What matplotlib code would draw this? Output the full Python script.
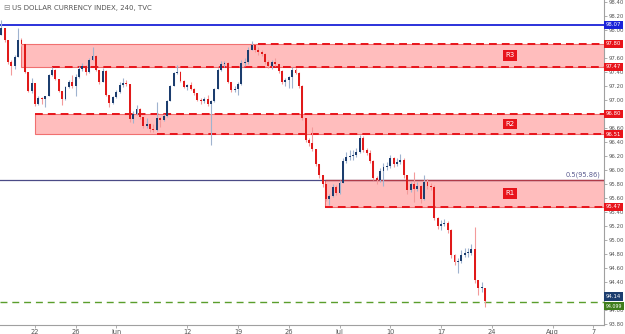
import matplotlib
matplotlib.use("Agg")
import matplotlib.pyplot as plt
import numpy as np
from matplotlib.transforms import blended_transform_factory

title = "US DOLLAR CURRENCY INDEX, 240, TVC"

# 8h candles, open = previous close
first_open = 97.93
closes = [98.03, 97.86, 97.54, 97.48, 97.61, 97.86, 97.80, 97.40, 97.13, 97.24,
          96.94, 97.03, 97.01, 97.06, 97.36, 97.43, 97.30, 97.13, 97.01, 97.18,
          97.26, 97.20, 97.33, 97.44, 97.48, 97.40, 97.57, 97.63, 97.43, 97.26,
          97.41, 97.07, 96.96, 97.04, 97.11, 97.21, 97.24, 97.23, 96.73, 96.80,
          96.87, 96.76, 96.63, 96.66, 96.58, 96.57, 96.74, 96.71, 96.77, 96.98,
          97.20, 97.38, 97.40, 97.27, 97.18, 97.21, 97.16, 97.10, 97.00, 96.98,
          97.01, 96.94, 96.98, 97.16, 97.43, 97.51, 97.53, 97.26, 97.14, 97.16,
          97.23, 97.53, 97.54, 97.71, 97.78, 97.71, 97.68, 97.66, 97.54, 97.48,
          97.54, 97.51, 97.41, 97.26, 97.28, 97.33, 97.43, 97.38, 97.20, 96.74,
          96.43, 96.38, 96.30, 96.08, 95.93, 95.80, 95.58, 95.63, 95.76, 95.67,
          95.81, 96.13, 96.18, 96.20, 96.21, 96.26, 96.46, 96.28, 96.24, 96.13,
          95.88, 95.86, 95.98, 96.04, 96.06, 96.17, 96.08, 96.11, 96.14, 95.93,
          95.71, 95.80, 95.73, 95.77, 95.58, 95.83, 95.77, 95.76, 95.31, 95.20,
          95.23, 95.24, 95.14, 94.78, 94.68, 94.70, 94.78, 94.81, 94.81, 94.87,
          94.43, 94.31, 94.31, 94.13]
highs = [98.14, 98.00, 97.86, 97.57, 97.64, 98.03, 97.88, 97.80, 97.40, 97.31,
         97.24, 97.06, 97.04, 97.06, 97.37, 97.47, 97.44, 97.30, 97.13, 97.20,
         97.28, 97.36, 97.37, 97.48, 97.53, 97.50, 97.60, 97.76, 97.64, 97.43,
         97.46, 97.43, 97.07, 97.06, 97.14, 97.26, 97.31, 97.28, 97.23, 96.84,
         96.93, 96.88, 96.76, 96.74, 96.67, 96.66, 96.97, 96.76, 96.80, 97.00,
         97.21, 97.40, 97.50, 97.41, 97.28, 97.23, 97.26, 97.17, 97.10, 97.03,
         97.04, 97.07, 97.00, 97.17, 97.46, 97.56, 97.56, 97.54, 97.26, 97.20,
         97.26, 97.57, 97.60, 97.76, 97.84, 97.80, 97.76, 97.71, 97.67, 97.57,
         97.57, 97.60, 97.51, 97.43, 97.31, 97.34, 97.47, 97.46, 97.40, 97.21,
         96.74, 96.46, 96.61, 96.30, 96.08, 95.93, 95.80, 95.66, 95.80, 95.78,
         95.86, 96.17, 96.26, 96.28, 96.28, 96.31, 96.50, 96.48, 96.31, 96.28,
         96.14, 95.91, 96.03, 96.10, 96.11, 96.21, 96.18, 96.17, 96.23, 96.17,
         95.93, 95.83, 95.97, 95.83, 95.78, 95.93, 95.87, 95.81, 95.78, 95.33,
         95.28, 95.30, 95.27, 95.16, 94.80, 94.74, 94.86, 94.88, 94.88, 94.94,
         95.18, 94.40, 94.40, 94.23]
lows = [97.97, 97.83, 97.51, 97.36, 97.44, 97.61, 97.77, 97.38, 97.11, 97.10,
        96.91, 96.93, 96.94, 96.90, 97.06, 97.34, 97.28, 97.11, 96.93, 97.00,
        97.17, 97.17, 97.06, 97.31, 97.41, 97.36, 97.38, 97.57, 97.41, 97.23,
        97.26, 97.06, 96.90, 96.94, 97.03, 97.10, 97.18, 97.20, 96.68, 96.67,
        96.78, 96.73, 96.60, 96.60, 96.54, 96.54, 96.56, 96.61, 96.70, 96.76,
        96.98, 97.20, 97.37, 97.26, 97.17, 97.14, 97.14, 97.07, 96.98, 96.94,
        96.96, 96.91, 96.36, 96.97, 97.16, 97.41, 97.47, 97.24, 97.11, 97.11,
        97.07, 97.21, 97.48, 97.51, 97.71, 97.68, 97.64, 97.63, 97.51, 97.46,
        97.44, 97.48, 97.38, 97.23, 97.20, 97.17, 97.17, 97.37, 97.17, 96.71,
        96.40, 96.34, 96.27, 96.06, 95.88, 95.76, 95.56, 95.50, 95.61, 95.64,
        95.66, 95.81, 96.10, 96.14, 96.14, 96.18, 96.24, 96.26, 96.21, 96.10,
        95.86, 95.80, 95.83, 95.77, 96.00, 96.03, 96.04, 96.06, 96.08, 95.88,
        95.66, 95.68, 95.54, 95.70, 95.53, 95.57, 95.73, 95.71, 95.28, 95.16,
        95.14, 95.20, 95.10, 94.74, 94.64, 94.53, 94.67, 94.76, 94.76, 94.78,
        94.38, 94.21, 94.26, 94.04]
bars_per_day = 3
first_bar_day = -10 / 3   # trading days counted from 22 May

tick_pos = [0, 4, 8, 15, 20, 25, 30, 35, 40, 45, 51, 55]
tick_labels = ["22", "26", "Jun", "12", "19", "26", "Jul", "10", "17", "24", "Aug", "7"]

zone_names = ["R3", "R2", "R1"]
zone_low = [97.47, 96.51, 95.47]
zone_high = [97.80, 96.80, 95.86]
zone_start = [-1.38, 0.0, 28.57]
dash_high_from = [21.97, 0.0, None]
dash_low_from = [1.67, 12.0, 28.57]

top_level = 98.07
fib_level = 95.86
support_level = 94.11
last_price = 94.14

red = "#e8141b"
x_min, x_max = -3.45, 56.06

fig = plt.figure(figsize=(6.25, 3.34), dpi=100)
ax = fig.add_axes([0, 9 / 334, 604 / 625, 325 / 334])
ax.set_xlim(x_min, x_max)
ax.set_ylim(93.784, 98.427)

# zones
for name, lo, hi, x0, dh, dl in zip(zone_names, zone_low, zone_high, zone_start,
                                    dash_high_from, dash_low_from):
    ax.add_patch(plt.Rectangle((x0, lo), x_max + 5 - x0, hi - lo, fc="#ffbdbd",
                               ec="#f07070", lw=0.8, zorder=1))
    for level, d in ((hi, dh), (lo, dl)):
        if d is not None:
            ax.hlines(level, d, x_max, colors=red, lw=1.4,
                      linestyles=(0, (4, 2.6)), zorder=4)
    ax.text(46.8, (lo + hi) / 2, name, color="white", fontsize=5, ha="center",
            va="center", zorder=6,
            bbox=dict(boxstyle="square,pad=0.35", fc=red, ec="none"))

ax.axhline(top_level, color="#1a22d8", lw=1.3, zorder=3)
ax.axhline(fib_level, color="#4b4b86", lw=0.9, zorder=2)
ax.hlines(fib_level, zone_start[2], x_max, colors="#b03a48", lw=0.9, zorder=2)
ax.text(55.7, fib_level + 0.02, "0.5(95.86)", color="#5b5b8f", fontsize=4.8,
        ha="right", va="bottom", zorder=6)
ax.axhline(support_level, color="#5a9e2c", lw=1.0, linestyle=(0, (5, 3.5)), zorder=3)

# candles
opens = [first_open] + closes[:-1]
xs = first_bar_day + np.arange(len(closes)) / bars_per_day
for x, o, c, h, l in zip(xs, opens, closes, highs, lows):
    up = c >= o
    body_c = "#1c3d6e" if up else "#e01a1a"
    wick_c = "#9fb3cf" if up else "#f39a9a"
    ax.vlines(x, min(l, o, c), max(h, o, c), colors=wick_c, lw=0.8, zorder=7)
    ax.bar(x, max(abs(c - o), 0.012), bottom=min(o, c), width=0.19,
           color=body_c, lw=0, zorder=8)

# price tags on the right axis
tags = [(top_level, "98.07", "#1a22d8", 0), (97.80, "97.80", red, 0),
        (97.47, "97.47", red, 0), (96.80, "96.80", red, 0),
        (96.51, "96.51", red, 0), (95.47, "95.47", red, 0),
        (last_price, "94.14", "#1c3d6e", 2.5), (support_level, "94.099", "#3f7d1c", -3)]

# axes styling
for s in ("left", "top"):
    ax.spines[s].set_visible(False)
for s in ("right", "bottom"):
    ax.spines[s].set_color("#a0a0a0")
    ax.spines[s].set_linewidth(0.8)
ax.yaxis.tick_right()
y_ticks = np.round(np.arange(93.8, 98.41, 0.2), 2)
tag_vals = [round(t[0], 2) for t in tags]
# tick labels sitting exactly under a tag are hidden by it
ax.set_yticks(y_ticks, ["" if v in tag_vals else f"{v:.2f}" for v in y_ticks])
ax.tick_params(axis="y", labelsize=3.9, colors="#a0a0a0", labelcolor="#555555",
               length=2, width=0.6, pad=1)
ax.set_xticks(tick_pos, tick_labels)
ax.tick_params(axis="x", labelsize=4.8, colors="#a0a0a0", labelcolor="#555555",
               length=2.5, width=0.6, pad=0.5)

tr = blended_transform_factory(ax.transAxes, ax.transData)
for val, txt, col, dy in tags:
    ax.annotate(txt, (1.0, val), xycoords=tr, xytext=(1.3, dy),
                textcoords="offset points", color="white",
                fontsize=3.4 if len(txt) > 5 else 3.9,
                ha="left", va="center", annotation_clip=False, zorder=10,
                bbox=dict(boxstyle="square,pad=0.3", fc=col, ec="none"))

ax.text(12 / 604, 1 - 8 / 325, title, transform=ax.transAxes, fontsize=5,
        color="#555555", va="center", ha="left", zorder=10)
ax.text(3 / 604, 1 - 8 / 325, "\u229f", transform=ax.transAxes, fontsize=5.5,
        color="#888888", va="center", ha="left", zorder=10)

fig.savefig("out.png", dpi=100)
